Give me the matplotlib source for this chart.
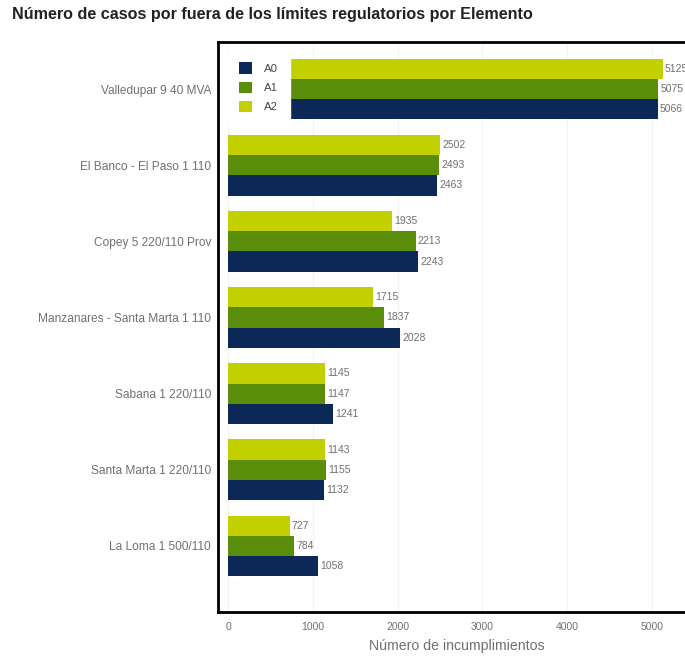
import numpy as np
import matplotlib.pyplot as plt

plt.rcParams['font.family'] = ['Liberation Sans', 'DejaVu Sans']

elementos = ['Valledupar 9 40 MVA', 'El Banco - El Paso 1 110', 'Copey 5 220/110 Prov',
             'Manzanares - Santa Marta 1 110', 'Sabana 1 220/110',
             'Santa Marta 1 220/110', 'La Loma 1 500/110']
a0 = [5066, 2463, 2243, 2028, 1241, 1132, 1058]
a1 = [5075, 2493, 2213, 1837, 1147, 1155, 784]
a2 = [5125, 2502, 1935, 1715, 1145, 1143, 727]
series = ['A0', 'A1', 'A2']
colores = ['#0b2857', '#5a8d0a', '#c2d000']

fig = plt.figure(figsize=(6.85, 6.57), dpi=100)
W, H = 685, 657
ax = fig.add_axes([218 / W, (H - 612) / H, (696 - 218) / W, (612 - 42) / H])

y = np.arange(len(elementos))
h = 0.265
gris = '#707070'
bars = []
for vals, off, col, nom in [(a2, -h, colores[2], 'A2'), (a1, 0, colores[1], 'A1'), (a0, h, colores[0], 'A0')]:
    b = ax.barh(y + off, vals, height=h, color=col, label=nom, zorder=2)
    bars.append(b)
    for yi, v in zip(y + off, vals):
        ax.text(v + 25, yi, str(v), va='center', ha='left', fontsize=7.5, color=gris)

px = 1000 / 84.8
ax.set_xlim(-10 * px, 5000 + (696 - 652) * px)
ax.set_ylim(6.87, -0.62)
ax.set_xticks([0, 1000, 2000, 3000, 4000, 5000])
ax.set_yticks(y)
ax.set_yticklabels(elementos)
ax.tick_params(length=0, labelsize=7.5, labelcolor=gris)
ax.tick_params(axis='y', labelsize=8.6, pad=5)
ax.tick_params(axis='x', pad=7)
ax.grid(axis='x', color='#f2f2f2', lw=0.8, zorder=0)
for s in ax.spines.values():
    s.set_linewidth(2)
    s.set_color('black')
ax.set_xlabel('Número de incumplimientos', fontsize=10.2, color=gris, labelpad=5)

handles = [bars[2], bars[1], bars[0]]
leg = ax.legend(handles, series, loc='upper left', bbox_to_anchor=(0.0, 1.0),
                frameon=True, fancybox=False, edgecolor='white', facecolor='white',
                framealpha=1, fontsize=8.2, handlelength=1.2, handleheight=1.2,
                labelspacing=0.65, handletextpad=1.0, borderpad=1.1, borderaxespad=0.7)
for t in leg.get_texts():
    t.set_color('#444444')
leg.set_zorder(5)

fig.text(12 / W, 1 - 15 / H, 'Número de casos por fuera de los límites regulatorios por Elemento',
         fontsize=11.6, fontweight='bold', color='#222222', va='center', ha='left')

fig.savefig('out.png', dpi=100)
